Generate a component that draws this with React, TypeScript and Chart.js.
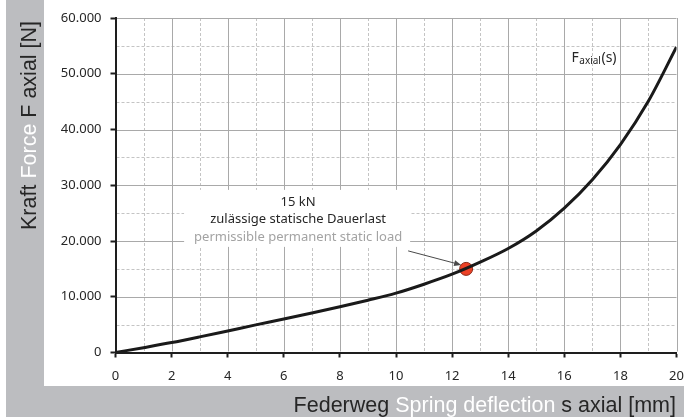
import React, { useEffect, useRef } from 'react';
import { Chart, registerables } from 'chart.js';

Chart.register(...registerables);

// ---- data ----
const deflection = [0, 1, 2, 3, 4, 5, 6, 7, 8, 9, 10, 11, 12, 13, 14, 15, 16, 17, 18, 19, 20];
const force = [0, 870, 1780, 2800, 3870, 4950, 6000, 7070, 8200, 9380, 10650, 12250, 14040, 16200, 18650, 21800, 25900, 31000, 37300, 45100, 54800];
const markerDeflection = [12.5];
const markerForce = [15000];
const xTickValues = [0, 2, 4, 6, 8, 10, 12, 14, 16, 18, 20];
const yTickValues = [0, 10000, 20000, 30000, 40000, 50000, 60000];
const yTickLabels = ['0', '10.000', '20.000', '30.000', '40.000', '50.000', '60.000'];
const yTitleParts = ['Kraft ', 'Force', ' F axial [N]'];
const xTitleParts = ['Federweg ', 'Spring deflection', ' s axial [mm]'];
const annotationLines = ['15 kN', 'zulässige statische Dauerlast', 'permissible permanent static load'];
const seriesLabel = ['F', 'axial', '(s)'];

const W = 684;
const H = 418;
const GRAY = '#bcbdc0';
const DARK = '#262626';
const TICK_FONT = '"Noto Sans", "Open Sans", sans-serif';
const TITLE_FONT = '"Liberation Sans", Arial, sans-serif';

const drawPlugin = {
  id: 'customDraw',
  beforeDraw(chart: any) {
    const ctx: CanvasRenderingContext2D = chart.ctx;
    const { left, right, top, bottom } = chart.chartArea;
    const xs = chart.scales.x;
    const ys = chart.scales.y;
    ctx.save();
    // backgrounds
    ctx.fillStyle = '#ffffff';
    ctx.fillRect(0, 0, W, H);
    ctx.fillStyle = GRAY;
    ctx.fillRect(6, 0, W - 6, 417);
    ctx.fillStyle = '#ffffff';
    ctx.fillRect(44, 0, W - 44, 386);

    // grid: minor dashed
    ctx.lineWidth = 1;
    ctx.strokeStyle = '#c4c4c4';
    ctx.setLineDash([3, 2]);
    for (let s = xs.min + 1; s < xs.max; s += 2) {
      const px = Math.round(xs.getPixelForValue(s)) + 0.5;
      ctx.beginPath(); ctx.moveTo(px, top); ctx.lineTo(px, bottom - 1); ctx.stroke();
    }
    for (let f = ys.min + 5000; f < ys.max; f += 10000) {
      const py = Math.round(ys.getPixelForValue(f)) + 0.5;
      ctx.beginPath(); ctx.moveTo(left + 1, py); ctx.lineTo(right, py); ctx.stroke();
    }
    // grid: major solid
    ctx.setLineDash([]);
    ctx.strokeStyle = '#a9a9a9';
    xTickValues.forEach((s) => {
      if (s === xs.min) return;
      const px = Math.round(xs.getPixelForValue(s)) + 0.5;
      ctx.beginPath(); ctx.moveTo(px, top); ctx.lineTo(px, bottom - 1); ctx.stroke();
    });
    yTickValues.forEach((f) => {
      if (f === ys.min) return;
      const py = Math.round(ys.getPixelForValue(f)) + 0.5;
      ctx.beginPath(); ctx.moveTo(left + 1, py); ctx.lineTo(right, py); ctx.stroke();
    });

    // annotation box + text
    const mx = xs.getPixelForValue(markerDeflection[0]);
    const my = ys.getPixelForValue(markerForce[0]);
    const cx = mx - 168;
    ctx.fillStyle = '#ffffff';
    ctx.fillRect(cx - 114, my - 79, 226, 57);
    ctx.textAlign = 'center';
    ctx.textBaseline = 'alphabetic';
    ctx.font = `13px ${TICK_FONT}`;
    ctx.fillStyle = DARK;
    ctx.fillText(annotationLines[0], cx, my - 62.5);
    ctx.fillText(annotationLines[1], cx, my - 45.5);
    ctx.fillStyle = '#a3a3a3';
    ctx.fillText(annotationLines[2], cx, my - 28);

    // series label F_axial(s)
    ctx.textAlign = 'left';
    ctx.fillStyle = DARK;
    const lx = 571.5;
    const ly = 61.5;
    ctx.font = `14px ${TICK_FONT}`;
    ctx.fillText(seriesLabel[0], lx, ly);
    let w = ctx.measureText(seriesLabel[0]).width + 0.5;
    ctx.font = `10px ${TICK_FONT}`;
    ctx.fillText(seriesLabel[1], lx + w, ly + 2.5);
    w += ctx.measureText(seriesLabel[1]).width + 0.5;
    ctx.font = `14px ${TICK_FONT}`;
    ctx.fillText(seriesLabel[2], lx + w, ly);

    // axis titles
    const colors = [DARK, '#ffffff', DARK];
    ctx.font = `21.5px ${TITLE_FONT}`;
    ctx.save();
    ctx.translate(36, 230);
    ctx.rotate(-Math.PI / 2);
    let off = 0;
    yTitleParts.forEach((t, i) => {
      ctx.fillStyle = colors[i];
      ctx.fillText(t, off, 0);
      off += ctx.measureText(t).width;
    });
    ctx.restore();

    const total = xTitleParts.reduce((a, t) => a + ctx.measureText(t).width, 0);
    let xo = 676 - total;
    xTitleParts.forEach((t, i) => {
      ctx.fillStyle = colors[i];
      ctx.fillText(t, xo, 412);
      xo += ctx.measureText(t).width;
    });
    ctx.restore();
  },
  beforeDatasetsDraw(chart: any) {
    const ctx: CanvasRenderingContext2D = chart.ctx;
    const xs = chart.scales.x;
    const ys = chart.scales.y;
    const mx = xs.getPixelForValue(markerDeflection[0]);
    const my = ys.getPixelForValue(markerForce[0]);
    const x0 = mx - 58, y0 = my - 18;
    const x1 = mx - 5, y1 = my - 4;
    const ang = Math.atan2(y1 - y0, x1 - x0);
    ctx.save();
    ctx.strokeStyle = '#4a4a4a';
    ctx.fillStyle = '#4a4a4a';
    ctx.lineWidth = 1;
    ctx.beginPath(); ctx.moveTo(x0, y0); ctx.lineTo(x1 - 4 * Math.cos(ang), y1 - 4 * Math.sin(ang)); ctx.stroke();
    ctx.beginPath();
    ctx.moveTo(x1, y1);
    ctx.lineTo(x1 - 7 * Math.cos(ang) + 3 * Math.sin(ang), y1 - 7 * Math.sin(ang) - 3 * Math.cos(ang));
    ctx.lineTo(x1 - 7 * Math.cos(ang) - 3 * Math.sin(ang), y1 - 7 * Math.sin(ang) + 3 * Math.cos(ang));
    ctx.closePath();
    ctx.fill();
    ctx.restore();
  },
};

export default function App() {
  const ref = useRef<HTMLCanvasElement>(null);
  useEffect(() => {
    if (!ref.current) return;
    const chart = new Chart(ref.current, {
      type: 'line',
      data: {
        datasets: [
          {
            data: deflection.map((s, i) => ({ x: s, y: force[i] })),
            borderColor: '#1a1a1a',
            borderWidth: 3,
            pointRadius: 0,
            cubicInterpolationMode: 'monotone',
            fill: false,
          },
          {
            data: markerDeflection.map((s, i) => ({ x: s, y: markerForce[i] })),
            showLine: false,
            pointRadius: 6.5,
            pointBackgroundColor: '#ec4126',
            pointBorderColor: '#8a2a18',
            pointBorderWidth: 1,
          },
        ],
      } as any,
      options: {
        responsive: false,
        animation: false,
        devicePixelRatio: 1,
        layout: { padding: { left: 0, top: 18, right: 4.5, bottom: 0 } },
        plugins: { legend: { display: false }, tooltip: { enabled: false } },
        scales: {
          x: {
            type: 'linear',
            min: 0,
            max: 20,
            afterBuildTicks: (s: any) => { s.ticks = xTickValues.map((v) => ({ value: v })); },
            ticks: { color: DARK, font: { family: TICK_FONT, size: 13 }, padding: 11, maxRotation: 0, autoSkip: false },
            grid: { drawOnChartArea: false, drawTicks: true, tickLength: 5, tickColor: '#1e1e1e', tickWidth: 2 },
            border: { color: '#1e1e1e', width: 2 },
            afterFit: (s: any) => { s.height = 65.5; s.paddingLeft = 0; s.paddingRight = 0; },
          },
          y: {
            type: 'linear',
            min: 0,
            max: 60000,
            afterBuildTicks: (s: any) => { s.ticks = yTickValues.map((v) => ({ value: v })); },
            ticks: {
              color: DARK,
              font: { family: TICK_FONT, size: 13 },
              padding: 9,
              autoSkip: false,
              callback: (v: any) => yTickLabels[yTickValues.indexOf(Number(v))],
            },
            grid: { drawOnChartArea: false, drawTicks: true, tickLength: 5, tickColor: '#1e1e1e', tickWidth: 2 },
            border: { color: '#1e1e1e', width: 2 },
            afterFit: (s: any) => { s.width = 115.5; s.paddingTop = 0; s.paddingBottom = 0; },
          },
        },
      } as any,
      plugins: [drawPlugin],
    });
    return () => chart.destroy();
  }, []);
  return (
    <div style={{ position: 'absolute', left: 0, top: 0, width: W, height: H }}>
      <canvas ref={ref} width={W} height={H} style={{ width: W, height: H, display: 'block' }} />
    </div>
  );
}
